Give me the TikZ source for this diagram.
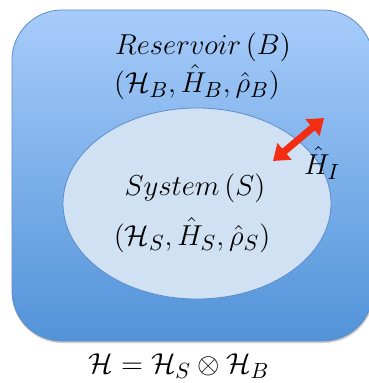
\documentclass[tikz,border=0pt]{standalone}
\usepackage{amsmath}
\usetikzlibrary{arrows.meta}

\definecolor{resTop}{RGB}{167,204,250}
\definecolor{resBot}{RGB}{82,147,217}
\definecolor{sysFill}{RGB}{207,225,243}
\definecolor{edgeBlue}{RGB}{95,140,200}
\definecolor{linkRed}{RGB}{242,45,18}

\tikzset{
  mathlabel/.style={font=\fontsize{15.5}{18}\selectfont, inner sep=0pt},
  coupling/.style={linkRed, line width=3.5pt, {Triangle[width=10.5pt,length=7.5pt]}-{Triangle[width=10.5pt,length=7.5pt]}}
}

\begin{document}
\begin{tikzpicture}[x=0.5pt,y=-0.5pt]
  \useasboundingbox (0,0) rectangle (368,383);

  % reservoir box with a soft shadow
  \fill[black!20, rounded corners=25pt] (12,12) rectangle (374,343);
  \shade[top color=resTop, bottom color=resBot, draw=edgeBlue, thin, rounded corners=25pt]
    (12,10) rectangle (373,341);

  % system ellipse
  \draw[fill=sysFill, draw=edgeBlue, thin] (197,203.5) ellipse [x radius=67pt, y radius=47.75pt];

  % labels
  \node[mathlabel] (res) at (203,47) {$Reservoir\,(B)$};
  \node[mathlabel] (resspace) at (197,82) {$(\mathcal{H}_B,\hat{H}_B,\hat{\rho}_B)$};
  \node[mathlabel] (sys) at (195,188) {$System\,(S)$};
  \node[mathlabel] (sysspace) at (192,235) {$(\mathcal{H}_S,\hat{H}_S,\hat{\rho}_S)$};
  \node[mathlabel] (hint) at (322,163) {$\hat{H}_I$};
  \node[mathlabel] (total) at (179,366) {$\mathcal{H}=\mathcal{H}_S\otimes\mathcal{H}_B$};

  % interaction arrow
  \coordinate (inner) at (273,161);
  \coordinate (outer) at (324,118);
  \draw[coupling] (inner) -- (outer);
\end{tikzpicture}
\end{document}
